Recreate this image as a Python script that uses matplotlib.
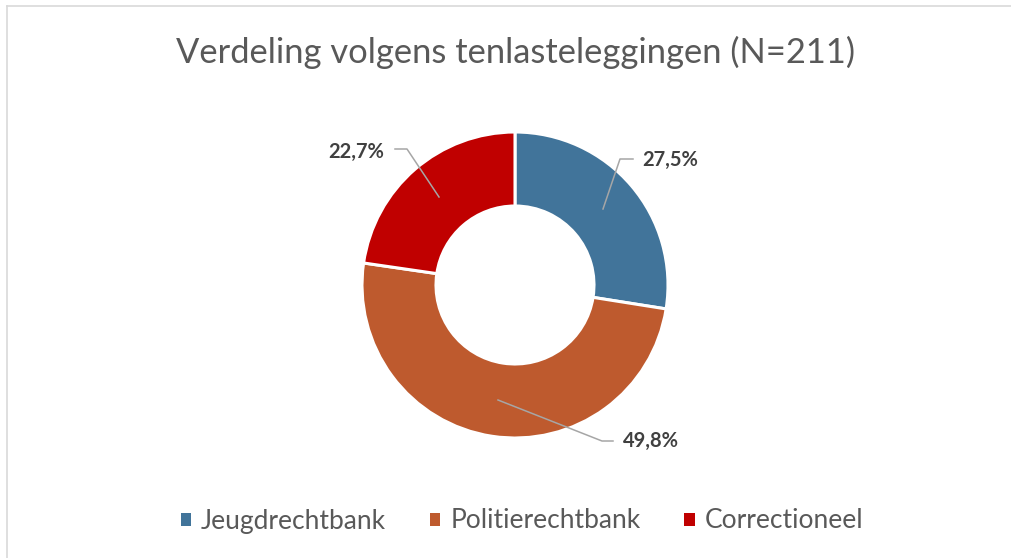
import matplotlib.pyplot as plt
from matplotlib.lines import Line2D
from matplotlib.patches import Patch

# data
categories = ["Jeugdrechtbank", "Politierechtbank", "Correctioneel"]
shares = [27.5, 49.8, 22.7]
labels = ["27,5%", "49,8%", "22,7%"]
colors = ["#41749A", "#BE5A2E", "#C00000"]
title = "Verdeling volgens tenlasteleggingen (N=211)"

W, H = 1011, 558
plt.rcParams['font.family'] = ['Lato', 'DejaVu Sans']

fig = plt.figure(figsize=(W / 100, H / 100), dpi=100)
ax = fig.add_axes([0, 0, 1, 1])

# donut, y axis inverted afterwards so counterclock=True runs clockwise on screen
cx, cy, R = 515, 285, 153
ax.pie(shares, colors=colors, startangle=-90, counterclock=True,
       center=(cx, cy), radius=R, frame=True,
       wedgeprops=dict(width=R - 79, edgecolor="white", linewidth=2.2))
ax.set_xlim(0, W)
ax.set_ylim(H, 0)
ax.set_aspect("auto")
ax.axis("off")

# chart frame (left + top edges only visible)
ax.add_line(Line2D([6.5, 6.5], [5.5, H], color="#D9D9D9", lw=1.2))
ax.add_line(Line2D([6.5, W], [5.5, 5.5], color="#D9D9D9", lw=1.2))

ax.text(515, 52, title, ha="center", va="center", fontsize=24.8, color="#595959")

# leader lines and labels
leaders = [
    [(633, 159), (620, 159), (603, 209)],
    [(613, 441), (602, 441), (498, 400)],
    [(395, 149), (407, 149), (439, 197)],
]
label_pos = [(670, 160), (651, 441), (356, 152)]
for pts, (tx, ty), lab in zip(leaders, label_pos, labels):
    xs, ys = zip(*pts)
    ax.add_line(Line2D(xs, ys, color="#A6A6A6", lw=1.1))
    ax.text(tx, ty, lab, ha="center", va="center", fontsize=14.5,
            fontweight="bold", color="#404040")

handles = [Patch(facecolor=c) for c in colors]
fig.legend(handles, categories, loc="center", bbox_to_anchor=(522 / W, 1 - 521 / H),
           ncol=3, frameon=False, fontsize=19, labelcolor="#595959",
           handlelength=0.38, handleheight=0.38, handletextpad=0.38,
           columnspacing=1.67, borderpad=0)

fig.savefig("out.png", dpi=100)
